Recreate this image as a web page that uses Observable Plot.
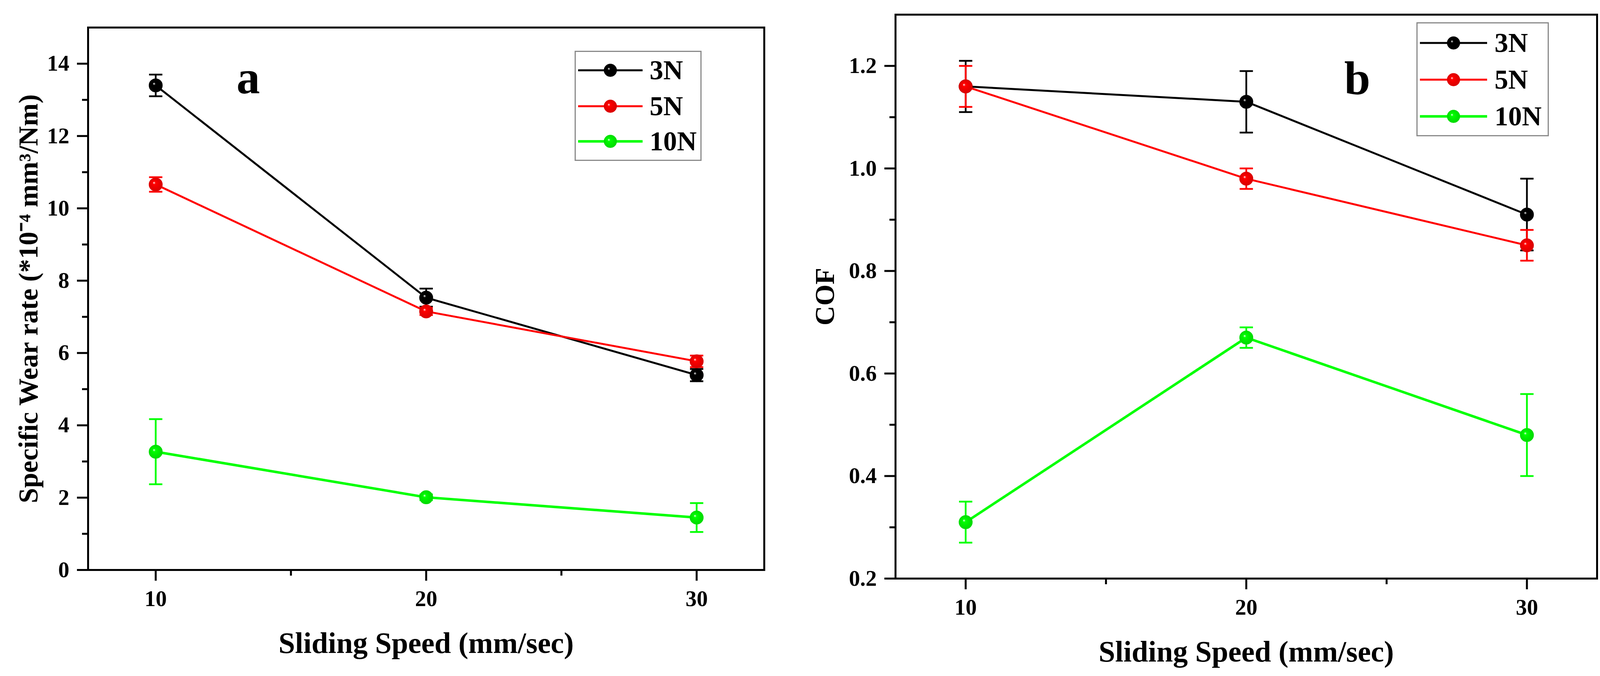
<!DOCTYPE html>
<html>
<head>
<meta charset="utf-8">
<script src="https://cdn.jsdelivr.net/npm/d3@7"></script>
<script src="https://cdn.jsdelivr.net/npm/@observablehq/plot@0.6"></script>
<style>
  body { margin: 0; background: #fff; overflow: hidden; }
  #wrap { position: relative; width: 4113px; height: 1731px; }
  .panel { position: absolute; top: 0; }
  .legend { position: absolute; box-sizing: border-box; border: 3px solid #8a8a8a; background: #fff; }
  .legend svg { display: block; }
</style>
</head>
<body>
<svg id="defs" width="0" height="0" style="position:absolute"></svg>
<div id="wrap">
  <div id="chart-a" class="panel" style="left:0px"></div>
  <div id="chart-b" class="panel" style="left:2060px"></div>
</div>
<script>
// data
const speeds = [10, 20, 30]
const minorSpeeds = [15, 25]
const loads = ["3N", "5N", "10N"]
const loadColors = ["#000000", "#ff0000", "#00ff00"]
const lineWidths = [5, 5, 6.5]

const wear3N = [13.4, 7.53, 5.39]
const wear3NErr = [0.3, 0.25, 0.17]
const wear5N = [10.66, 7.15, 5.77]
const wear5NErr = [0.2, 0.1, 0.16]
const wear10N = [3.27, 2.01, 1.45]
const wear10NErr = [0.9, 0.08, 0.4]

const cof3N = [1.16, 1.13, 0.91]
const cof3NErr = [0.05, 0.06, 0.07]
const cof5N = [1.16, 0.98, 0.85]
const cof5NErr = [0.04, 0.02, 0.03]
const cof10N = [0.31, 0.67, 0.48]
const cof10NErr = [0.04, 0.02, 0.08]

const wearTicks = [0, 2, 4, 6, 8, 10, 12, 14]
const wearMinor = [1, 3, 5, 7, 9, 11, 13]
const cofTicks = [0.2, 0.4, 0.6, 0.8, 1.0, 1.2]
const cofMinor = [0.3, 0.5, 0.7, 0.9, 1.1]

const font = "Liberation Serif"

// sphere-looking markers
let defs = d3.select('#defs').append('defs')
loadColors.forEach((c, i) => {
  let g = defs.append('radialGradient').attr('id', 'sph' + i)
    .attr('cx', 0.5).attr('cy', 0.5).attr('r', 0.55).attr('fx', 0.36).attr('fy', 0.36)
  g.append('stop').attr('offset', '0%').attr('stop-color', '#ffffff')
  g.append('stop').attr('offset', '20%').attr('stop-color', c)
  g.append('stop').attr('offset', '100%').attr('stop-color', d3.color(c).darker(0.5).formatHex())
})

// horizontal cap for error bars
const cap = {
  draw(ctx, size) {
    const w = Math.sqrt(size / Math.PI)
    ctx.moveTo(-w, 0)
    ctx.lineTo(w, 0)
  }
}

function makeRows(values, errs) {
  return values.map((v, i) => ({speed: speeds[i], v: v, e: errs[i]}))
}

function seriesMarks(rows, i) {
  return [
    Plot.line(rows, {x: 'speed', y: 'v', stroke: loadColors[i], strokeWidth: lineWidths[i]}),
    Plot.ruleX(rows, {x: 'speed', y1: d => d.v - d.e, y2: d => d.v + d.e, stroke: loadColors[i], strokeWidth: 4.5}),
    Plot.dot(rows, {x: 'speed', y: d => d.v - d.e, symbol: cap, r: 17, stroke: loadColors[i], strokeWidth: 4.5}),
    Plot.dot(rows, {x: 'speed', y: d => d.v + d.e, symbol: cap, r: 17, stroke: loadColors[i], strokeWidth: 4.5}),
    Plot.dot(rows, {x: 'speed', y: 'v', r: 17, fill: `url(#sph${i})`, stroke: d3.color(loadColors[i]).darker(0.4).formatHex(), strokeWidth: 1.5})
  ]
}

function createChart(cfg) {
  let marks = [
    Plot.frame({strokeWidth: 5}),
    Plot.axisX({ticks: speeds, tickSize: 28, tickPadding: 24, fontSize: 57, fontWeight: 'bold', strokeWidth: 5, label: null}),
    Plot.axisX({ticks: minorSpeeds, tickSize: 15, tickFormat: () => '', strokeWidth: 5, label: null}),
    Plot.axisY({ticks: cfg.ticks, tickSize: 28, tickPadding: 20, fontSize: 57, fontWeight: 'bold', strokeWidth: 5, label: null, tickFormat: cfg.format}),
    Plot.axisY({ticks: cfg.minor, tickSize: 15, tickFormat: () => '', strokeWidth: 5, label: null}),
    Plot.text([cfg.xLabel], {frameAnchor: 'bottom', dy: 188, fontSize: 76, fontWeight: 'bold', lineAnchor: 'middle', textAnchor: 'middle'}),
    Plot.text([cfg.yLabel], {frameAnchor: 'left', dx: cfg.yLabelDx, rotate: -90, fontSize: 70, fontWeight: 'bold', lineAnchor: 'middle', textAnchor: 'middle'}),
    Plot.text([cfg.tag], {frameAnchor: 'top-left', dx: cfg.tagDx, dy: cfg.tagDy, fontSize: 120, fontWeight: 'bold', lineAnchor: 'middle', textAnchor: 'middle'})
  ]
  cfg.series.forEach((rows, i) => { marks = marks.concat(seriesMarks(rows, i)) })

  let chart = Plot.plot({
    width: cfg.width,
    height: 1731,
    marginLeft: cfg.margins[0],
    marginRight: cfg.margins[1],
    marginTop: cfg.margins[2],
    marginBottom: cfg.margins[3],
    style: {fontFamily: font, color: '#000', background: '#fff', overflow: 'visible'},
    x: {domain: [7.5, 32.5]},
    y: {domain: cfg.domain},
    marks: marks
  })
  d3.select(cfg.el).append(() => chart)
}

function createLegend(box) {
  let div = d3.select('#wrap').append('div').attr('class', 'legend')
    .style('left', box.left + 'px').style('top', box.top + 'px')
    .style('width', box.w + 'px').style('height', box.h + 'px')
  let svg = div.append('svg').attr('width', box.w - 6).attr('height', box.h - 6)
  loads.forEach((name, i) => {
    let y = box.rows[i]
    svg.append('line').attr('x1', box.line[0]).attr('x2', box.line[1]).attr('y1', y).attr('y2', y)
      .attr('stroke', loadColors[i]).attr('stroke-width', lineWidths[i])
    svg.append('circle').attr('cx', (box.line[0] + box.line[1]) / 2).attr('cy', y).attr('r', 16)
      .attr('fill', `url(#sph${i})`).attr('stroke', d3.color(loadColors[i]).darker(0.4).formatHex()).attr('stroke-width', 1.5)
    svg.append('text').attr('x', box.textX).attr('y', y).attr('dy', '0.33em')
      .attr('font-family', font).attr('font-weight', 'bold').attr('font-size', 70)
      .text(name)
  })
}

createChart({
  el: '#chart-a', width: 2060, margins: [225, 104, 70, 272],
  domain: [0, 15], ticks: wearTicks, minor: wearMinor, format: d3.format('d'),
  xLabel: 'Sliding Speed (mm/sec)',
  yLabel: 'Specific Wear rate (*10⁻⁴ mm³/Nm)', yLabelDx: -152,
  tag: 'a', tagDx: 410, tagDy: 130,
  series: [makeRows(wear3N, wear3NErr), makeRows(wear5N, wear5NErr), makeRows(wear10N, wear10NErr)]
})

createChart({
  el: '#chart-b', width: 2053, margins: [232, 25, 37, 250],
  domain: [0.2, 1.3], ticks: cofTicks, minor: cofMinor, format: d3.format('.1f'),
  xLabel: 'Sliding Speed (mm/sec)',
  yLabel: 'COF', yLabelDx: -180,
  tag: 'b', tagDx: 1182, tagDy: 165,
  series: [makeRows(cof3N, cof3NErr), makeRows(cof5N, cof5NErr), makeRows(cof10N, cof10NErr)]
})

createLegend({left: 1471, top: 130, w: 325, h: 282, rows: [47, 139, 229], line: [6, 171], textX: 189})
createLegend({left: 3626, top: 57, w: 339, h: 292, rows: [50, 144, 238], line: [6, 178], textX: 197})
</script>
</body>
</html>
